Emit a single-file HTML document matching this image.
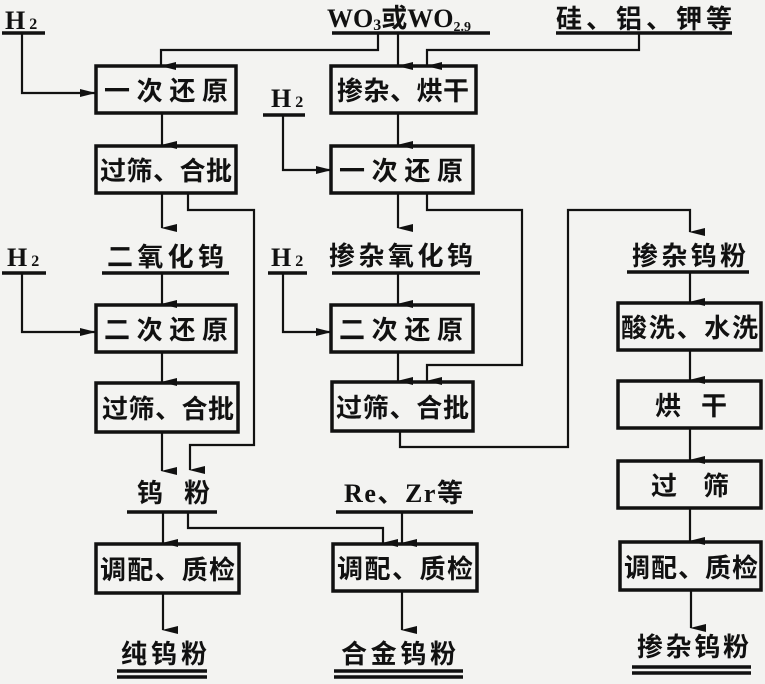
<!DOCTYPE html>
<html><head><meta charset="utf-8"><style>
html,body{margin:0;padding:0;background:#f3f3f1;}
svg{display:block}
text{font-family:"Liberation Serif","Noto Sans CJK SC",sans-serif;font-size:26px;fill:#111;font-weight:bold;}
.b{fill:none;stroke:#111;stroke-width:3.5}
.l{fill:none;stroke:#111;stroke-width:2.2}
.u{stroke:#111;stroke-width:3.5}
.s{font-size:16px}
</style></head><body>
<svg width="765" height="684" viewBox="0 0 765 684" xmlns="http://www.w3.org/2000/svg">
<defs><marker id="a" markerWidth="10" markerHeight="16" refX="5" refY="15" orient="auto" markerUnits="userSpaceOnUse"><path d="M1,0 L5,16 L9,0 Z" fill="#111"/></marker>
<marker id="r" markerWidth="16" markerHeight="10" refX="15" refY="5" markerUnits="userSpaceOnUse"><path d="M0,1 L16,5 L0,9 Z" fill="#111"/></marker></defs>

<text x="5" y="29">H<tspan class="s" dx="4">2</tspan></text>
<line class="u" x1="2" y1="33" x2="45" y2="33"/>
<text x="327" y="27" font-weight="normal">WO<tspan class="s" dy="3">3</tspan><tspan dy="-3">或WO</tspan><tspan font-size="14" dy="4">2.9</tspan></text>
<line class="u" x1="332" y1="33" x2="490" y2="33"/>
<text x="556" y="28" textLength="176">硅、铝、钾等</text>
<line class="u" x1="556" y1="33" x2="732" y2="33"/>

<path class="l" d="M22,33 V93 H95" marker-end="url(#r)"/>
<path class="l" d="M378,33 V50 H161 V66" marker-end="url(#a)"/>
<path class="l" d="M398,33 V66" marker-end="url(#a)"/>
<path class="l" d="M639,33 V50 H427 V66" marker-end="url(#a)"/>

<!-- col1 -->
<rect class="b" x="96" y="66" width="140" height="47"/><text x="104" y="100" textLength="124">一次还原</text>
<path class="l" d="M162,113 V145" marker-end="url(#a)"/>
<rect class="b" x="96" y="146" width="140" height="47"/><text x="100" y="180" textLength="132">过筛、合批</text>
<path class="l" d="M162,193 V228" marker-end="url(#a)"/>
<path class="l" d="M188,193 V210 H254 V445 H190 V470" marker-end="url(#a)"/>
<text x="107" y="266" textLength="117">二氧化钨</text>
<line class="u" x1="102" y1="273" x2="229" y2="273"/>
<text x="7" y="266">H<tspan class="s" dx="4">2</tspan></text>
<line class="u" x1="2" y1="273" x2="46" y2="273"/>
<path class="l" d="M22,273 V332 H95" marker-end="url(#r)"/>
<path class="l" d="M162,273 V304" marker-end="url(#a)"/>
<rect class="b" x="96" y="305" width="140" height="47"/><text x="104" y="339" textLength="124">二次还原</text>
<path class="l" d="M162,352 V382" marker-end="url(#a)"/>
<rect class="b" x="96" y="383" width="142" height="49"/><text x="102" y="418" textLength="132">过筛、合批</text>
<path class="l" d="M162,432 V471" marker-end="url(#a)"/>
<text x="137" y="502" textLength="73">钨粉</text>
<line class="u" x1="127" y1="512" x2="217" y2="512"/>
<path class="l" d="M163,512 V543" marker-end="url(#a)"/>
<path class="l" d="M188,512 V528 H383 V543" marker-end="url(#a)"/>
<rect class="b" x="96" y="544" width="143" height="49"/><text x="100" y="579" textLength="135">调配、质检</text>
<path class="l" d="M163,593 V630" marker-end="url(#a)"/>
<text x="121" y="663" textLength="86">纯钨粉</text>
<line class="u" x1="117" y1="671" x2="207" y2="671"/><line class="u" x1="117" y1="677" x2="207" y2="677"/>

<!-- col2 -->
<rect class="b" x="331" y="66" width="145" height="47"/><text x="337" y="100" textLength="132">掺杂、烘干</text>
<text x="271" y="107">H<tspan class="s" dx="4">2</tspan></text>
<line class="u" x1="263" y1="115" x2="305" y2="115"/>
<path class="l" d="M283,115 V170 H331" marker-end="url(#r)"/>
<path class="l" d="M398,113 V145" marker-end="url(#a)"/>
<rect class="b" x="331" y="146" width="142" height="47"/><text x="339" y="180" textLength="124">一次还原</text>
<path class="l" d="M398,193 V228" marker-end="url(#a)"/>
<path class="l" d="M427,193 V210 H522 V365 H427 V381" marker-end="url(#a)"/>
<text x="329" y="265" textLength="144">掺杂氧化钨</text>
<line class="u" x1="332" y1="273" x2="480" y2="273"/>
<text x="271" y="266">H<tspan class="s" dx="4">2</tspan></text>
<line class="u" x1="268" y1="273" x2="307" y2="273"/>
<path class="l" d="M283,273 V332 H331" marker-end="url(#r)"/>
<path class="l" d="M398,273 V304" marker-end="url(#a)"/>
<rect class="b" x="331" y="305" width="142" height="47"/><text x="339" y="339" textLength="124">二次还原</text>
<path class="l" d="M398,352 V381" marker-end="url(#a)"/>
<rect class="b" x="332" y="382" width="141" height="49"/><text x="336" y="417" textLength="133">过筛、合批</text>
<path class="l" d="M400,431 V447 H568 V210 H690 V232" marker-end="url(#a)"/>
<text x="344" y="502" font-weight="normal" textLength="119">Re、Zr等</text>
<line class="u" x1="336" y1="512" x2="473" y2="512"/>
<path class="l" d="M402,512 V543" marker-end="url(#a)"/>
<rect class="b" x="333" y="544" width="144" height="47"/><text x="337" y="578" textLength="136">调配、质检</text>
<path class="l" d="M402,591 V630" marker-end="url(#a)"/>
<text x="341" y="663" textLength="115">合金钨粉</text>
<line class="u" x1="334" y1="671" x2="463" y2="671"/><line class="u" x1="334" y1="677" x2="463" y2="677"/>

<!-- col3 -->
<text x="632" y="265" textLength="114">掺杂钨粉</text>
<line class="u" x1="627" y1="272" x2="749" y2="272"/>
<path class="l" d="M690,272 V302" marker-end="url(#a)"/>
<rect class="b" x="618" y="303" width="143" height="47"/><text x="621" y="337" textLength="137">酸洗、水洗</text>
<path class="l" d="M690,350 V380" marker-end="url(#a)"/>
<rect class="b" x="618" y="381" width="143" height="47"/><text x="655" y="415" textLength="72">烘干</text>
<path class="l" d="M690,428 V460" marker-end="url(#a)"/>
<rect class="b" x="618" y="461" width="143" height="47"/><text x="651" y="495" textLength="78">过筛</text>
<path class="l" d="M690,508 V541" marker-end="url(#a)"/>
<rect class="b" x="620" y="542" width="141" height="48"/><text x="624" y="577" textLength="134">调配、质检</text>
<path class="l" d="M691,590 V628" marker-end="url(#a)"/>
<text x="637" y="656" textLength="112">掺杂钨粉</text>
<line class="u" x1="632" y1="667" x2="751" y2="667"/><line class="u" x1="632" y1="673" x2="751" y2="673"/>
</svg>
</body></html>
